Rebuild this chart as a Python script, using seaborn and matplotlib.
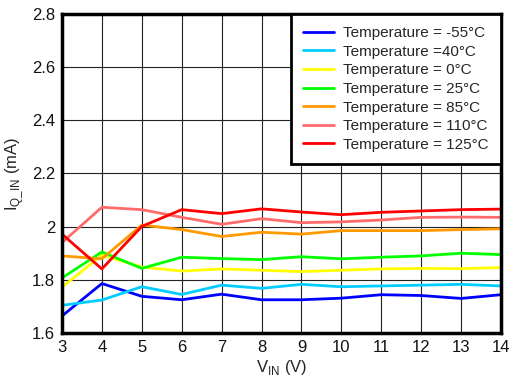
import numpy as np
import pandas as pd
import matplotlib
matplotlib.use("Agg")
import matplotlib.pyplot as plt
import seaborn as sns

vin = [3, 4, 5, 6, 7, 8, 9, 10, 11, 12, 13, 14]

labels = [
    "Temperature = -55°C",
    "Temperature =40°C",
    "Temperature = 0°C",
    "Temperature = 25°C",
    "Temperature = 85°C",
    "Temperature = 110°C",
    "Temperature = 125°C",
]

iq_m55 = [1.664, 1.786, 1.738, 1.725, 1.746, 1.725, 1.725, 1.731, 1.744, 1.741, 1.730, 1.744]
iq_m40 = [1.704, 1.724, 1.774, 1.745, 1.780, 1.768, 1.783, 1.774, 1.777, 1.780, 1.783, 1.777]
iq_0 = [1.772, 1.893, 1.848, 1.833, 1.841, 1.836, 1.831, 1.836, 1.841, 1.843, 1.842, 1.846]
iq_25 = [1.807, 1.905, 1.843, 1.885, 1.880, 1.876, 1.887, 1.879, 1.885, 1.890, 1.900, 1.895]
iq_85 = [1.890, 1.879, 2.006, 1.989, 1.963, 1.979, 1.972, 1.985, 1.985, 1.985, 1.989, 1.992]
iq_110 = [1.940, 2.073, 2.064, 2.035, 2.009, 2.030, 2.015, 2.018, 2.025, 2.035, 2.036, 2.035]
iq_125 = [1.972, 1.841, 2.001, 2.064, 2.049, 2.067, 2.055, 2.045, 2.054, 2.059, 2.064, 2.066]

colors = ["#0000FF", "#00CCFF", "#FFFF00", "#00FF00", "#FF9900", "#FF6B6B", "#FF0000"]

series = [iq_m55, iq_m40, iq_0, iq_25, iq_85, iq_110, iq_125]
df = pd.concat(
    [pd.DataFrame({"vin": vin, "iq": s, "temp": lab}) for lab, s in zip(labels, series)],
    ignore_index=True,
)

sns.set_style("white")
plt.rcParams["font.family"] = ["Liberation Sans", "DejaVu Sans"]

fig = plt.figure(figsize=(5.11, 3.81), dpi=100)
ax = fig.add_axes([0.1213, 0.126, 0.8591, 0.8373])

sns.lineplot(data=df, x="vin", y="iq", hue="temp", hue_order=labels,
             palette=colors, linewidth=2.0, ax=ax, legend=True)

ax.set_xlim(3, 14)
ax.set_ylim(1.6, 2.8)
ax.set_xticks(range(3, 15))
ax.set_yticks([1.6, 1.8, 2.0, 2.2, 2.4, 2.6, 2.8])
ax.set_yticklabels(["1.6", "1.8", "2", "2.2", "2.4", "2.6", "2.8"])
ax.grid(True, color="#222222", linewidth=0.8)
ax.set_axisbelow(True)
for sp in ax.spines.values():
    sp.set_visible(True)
    sp.set_color("black")
    sp.set_linewidth(2.5)
ax.tick_params(axis="both", labelsize=12, length=0, pad=5, colors="#111111")

ax.set_xlabel(r"V$_{\mathregular{IN}}$ (V)", fontsize=12, labelpad=2)
ax.set_ylabel(r"I$_{\mathregular{Q\_IN}}$ (mA)", fontsize=12, labelpad=4)

leg = ax.legend(loc="upper right", borderaxespad=0, fontsize=11, frameon=True,
                fancybox=False, handlelength=2.0, handletextpad=0.6,
                labelspacing=0.3, borderpad=0.8, title=None)
leg.get_frame().set_edgecolor("black")
leg.get_frame().set_linewidth(2.0)
leg.get_frame().set_alpha(1)
for line in leg.get_lines():
    line.set_linewidth(2.0)

fig.savefig("out.png", dpi=100)
